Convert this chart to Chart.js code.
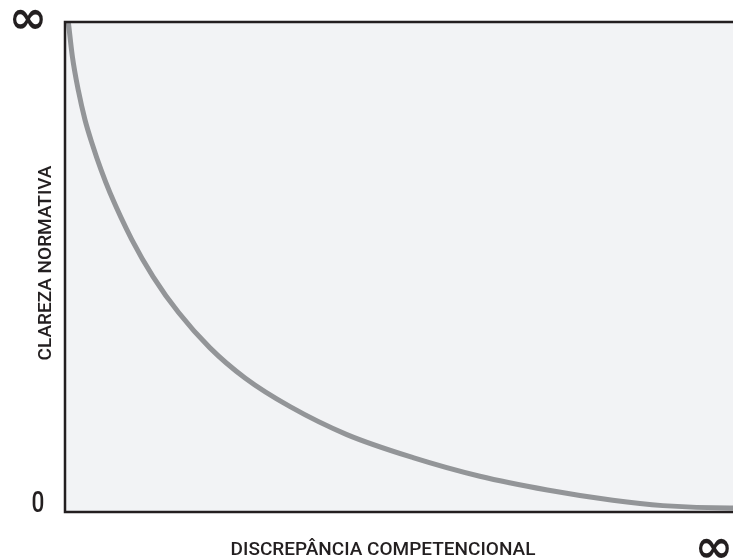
<!DOCTYPE html>
<html>
<head>
<meta charset="utf-8">
<script src="https://cdn.jsdelivr.net/npm/chart.js@4/dist/chart.umd.min.js"></script>
<style>
  html, body { margin: 0; padding: 0; background: #fff; }
  #wrap { width: 733px; height: 558px; position: relative; }
</style>
</head>
<body>
<div id="wrap"><canvas id="chart"></canvas></div>
<script>
// curve (0..100 on both axes)
const discrepancia = [0.5, 1.1, 2.0, 3.0, 4.1, 5.4, 6.75, 10, 13.2, 17, 21.7, 27, 33.7, 42.2, 52.1, 62.1, 72.2, 82, 89.5, 99.5, 100];
const clareza      = [100, 93, 86, 80, 75, 69.8, 65.1, 55.6, 48, 40.7, 33.5, 27.3, 21.5, 15.8, 11.1, 7.3, 4.5, 2.4, 1.3, 0.8, 0.8];

const xTitle = 'DISCREPÂNCIA COMPETENCIONAL';
const yTitle = 'CLAREZA NORMATIVA';
const yTopLabel = '∞';
const yZeroLabel = '0';
const xEndLabel = '∞';

const INK = '#231f20';

const frame = {
  id: 'frame',
  beforeDatasetsDraw(chart) {
    const { ctx, chartArea: a } = chart;
    ctx.save();
    ctx.fillStyle = '#f2f3f5';
    ctx.fillRect(a.left, a.top, a.right - a.left, a.bottom - a.top);
    ctx.restore();
  },
  afterDatasetsDraw(chart) {
    const { ctx, chartArea: a } = chart;
    ctx.save();
    ctx.strokeStyle = INK;
    ctx.lineWidth = 2.5;
    ctx.beginPath();
    ctx.moveTo(a.right, a.top);
    ctx.lineTo(a.left, a.top);
    ctx.lineTo(a.left, a.bottom);
    ctx.lineTo(a.right, a.bottom);
    ctx.stroke();

    ctx.fillStyle = INK;
    ctx.textBaseline = 'alphabetic';
    ctx.textAlign = 'center';

    // infinity marks
    ctx.font = 'bold 46px "DejaVu Sans"';
    ctx.fillText(yTopLabel, 28, 33);
    ctx.fillText(xEndLabel, 714, 562);

    // zero
    ctx.font = '500 29px Roboto';
    ctx.save();
    ctx.translate(38, 512);
    ctx.scale(0.78, 1);
    ctx.fillText(yZeroLabel, 0, 0);
    ctx.restore();

    // axis titles
    ctx.font = '500 19px Roboto';
    ctx.fillText(xTitle, 383, 555);
    ctx.save();
    ctx.translate(51, 263);
    ctx.rotate(-Math.PI / 2);
    ctx.fillText(yTitle, 0, 0);
    ctx.restore();
    ctx.restore();
  }
};

new Chart(document.getElementById('chart').getContext('2d'), {
  type: 'line',
  data: {
    datasets: [{
      data: discrepancia.map((x, i) => ({ x, y: clareza[i] })),
      borderColor: '#939598',
      borderWidth: 5,
      pointRadius: 0,
      fill: false,
      cubicInterpolationMode: 'monotone'
    }]
  },
  options: {
    responsive: true,
    maintainAspectRatio: false,
    animation: false,
    layout: { padding: { left: 65, top: 22, right: 0, bottom: 46 } },
    plugins: { legend: { display: false }, tooltip: { enabled: false } },
    scales: {
      x: { type: 'linear', min: 0, max: 100, display: false },
      y: { type: 'linear', min: 0, max: 100, display: false }
    }
  },
  plugins: [frame]
});
</script>
</body>
</html>
